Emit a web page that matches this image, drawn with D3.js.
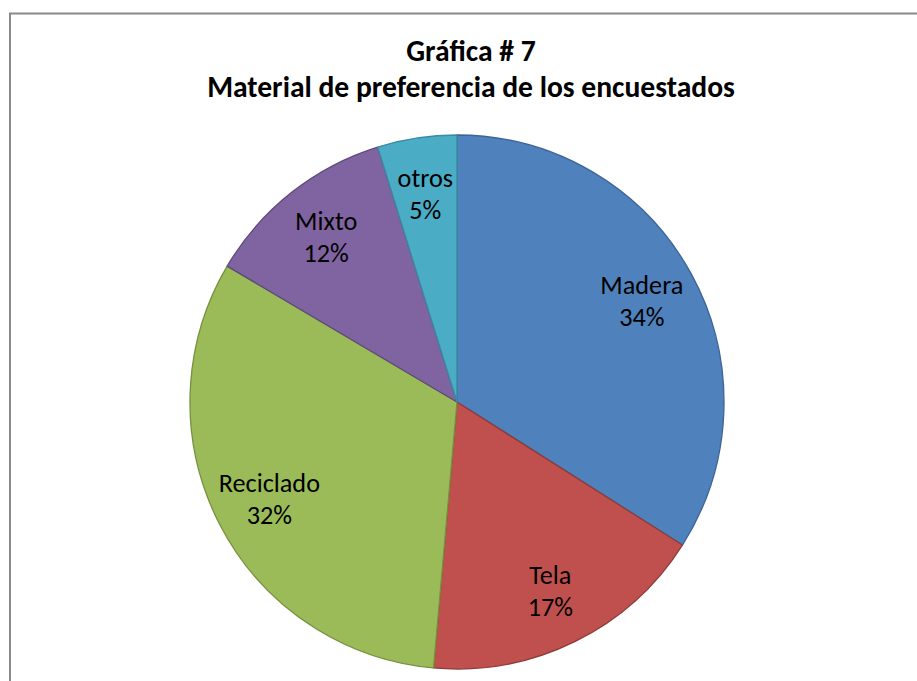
<!DOCTYPE html>
<html>
<head>
<meta charset="utf-8">
<script src="https://cdn.jsdelivr.net/npm/d3@7"></script>
<style>
  body { margin: 0; background: #ffffff; }
  svg { display: block; }
</style>
</head>
<body>
<div id="chart"></div>
<script>

// data (percent of respondents)
var categories = ["Madera", "Tela", "Reciclado", "Mixto", "otros"];
var values = [34.0, 17.4, 32.1, 11.7, 4.8];
var fills = ["#4F81BD", "#C0504D", "#9BBB59", "#8064A2", "#4BACC6"];
var strokes = ["#3C6497", "#8E3B39", "#76903F", "#5F4A7C", "#3A8AA0"];
var titleLines = ["Gráfica # 7", "Material de preferencia de los encuestados"];

var width = 917, height = 681;
var cx = 457, cy = 402, radius = 267;
var font = "Carlito, Calibri, Lato, 'Open Sans', sans-serif";

var svg = d3.select("#chart").append("svg")
  .attr("width", width)
  .attr("height", height);

svg.append("rect")
  .attr("width", width)
  .attr("height", height)
  .attr("fill", "#ffffff");

// chart frame (runs off the right and bottom)
svg.append("rect")
  .attr("x", 10)
  .attr("y", 13.5)
  .attr("width", 940)
  .attr("height", 700)
  .attr("fill", "none")
  .attr("stroke", "#8a8a8a")
  .attr("stroke-width", 2);

var title = svg.append("text")
  .attr("text-anchor", "middle")
  .attr("font-family", font)
  .attr("font-weight", "bold")
  .attr("fill", "#000");

title.selectAll("tspan")
  .data(titleLines)
  .join("tspan")
    .attr("x", 471)
    .attr("y", function(d, i) { return 61 + i * 36; })
    .text(function(d) { return d; });

// fit title width to the reference (~528px for the long line)
fitSize(title, 26, 528, 1);

var total = d3.sum(values);
var pie = d3.pie()
  .sort(null)
  .value(function(d) { return d; });

var arc = d3.arc()
  .innerRadius(0)
  .outerRadius(radius);

var labelArc = d3.arc()
  .innerRadius(radius * 0.79)
  .outerRadius(radius * 0.79);

var g = svg.append("g")
  .attr("transform", "translate(" + cx + "," + cy + ")");

var arcs = pie(values);

g.selectAll("path.slice")
  .data(arcs)
  .join("path")
    .attr("class", "slice")
    .attr("d", arc)
    .attr("fill", function(d, i) { return fills[i]; })
    .attr("stroke", function(d, i) { return strokes[i]; })
    .attr("stroke-width", 1.3)
    .attr("stroke-linejoin", "round");

var labels = g.selectAll("text.label")
  .data(arcs)
  .join("text")
    .attr("class", "label")
    .attr("text-anchor", "middle")
    .attr("font-family", font)
    .attr("fill", "#000")
    .attr("transform", function(d) {
      return "translate(" + labelArc.centroid(d) + ")";
    });

labels.append("tspan")
  .attr("x", 0)
  .attr("y", -16)
  .attr("dy", "0.35em")
  .text(function(d, i) { return categories[i]; });

labels.append("tspan")
  .attr("x", 0)
  .attr("y", 16)
  .attr("dy", "0.35em")
  .text(function(d) { return Math.round(d.value / total * 100) + "%"; });

// "Madera" is about 83px wide in the reference
fitSize(labels, 24, 83, 0, 0);

function fitSize(sel, start, target, lineIdx, nodeIdx) {
  sel.attr("font-size", start);
  var node = sel.nodes()[nodeIdx || 0];
  var tsp = d3.select(node).selectAll("tspan").nodes()[lineIdx];
  var w = tsp.getComputedTextLength();
  if (w > 0) sel.attr("font-size", start * target / w);
}
</script>
</body>
</html>
